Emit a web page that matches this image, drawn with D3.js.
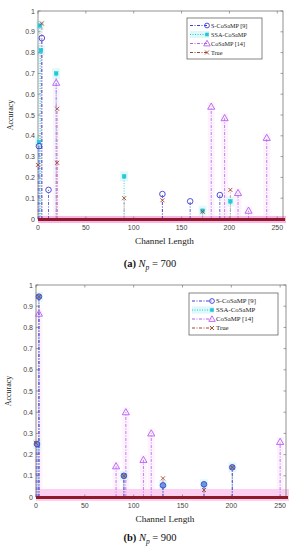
<!DOCTYPE html>
<html><head><meta charset="utf-8">
<script src="https://cdn.jsdelivr.net/npm/d3@7/dist/d3.min.js"></script>
<style>body{margin:0;background:#fff}svg{display:block}</style>
</head><body>
<script>
// ---- data ----
const seriesNames = ["S-CoSaMP [9]", "SSA-CoSaMP", "CoSaMP [14]", "True"];
const xTicks = [0, 50, 100, 150, 200, 250];
const yTicks = [0, 0.1, 0.2, 0.3, 0.4, 0.5, 0.6, 0.7, 0.8, 0.9, 1];
const xDomain = [0, 256];

// panel (a) Np = 700 : [tap index, accuracy]
const a_sCosamp = [[1,0.35],[4,0.87],[11,0.14],[130,0.12],[159,0.085],[190,0.115]];
const a_ssaCosamp = [[1,0.37],[2,0.93],[3,0.81],[19,0.70],[90,0.205],[172,0.04],[201,0.085]];
const a_cosamp = [[19,0.655],[181,0.54],[195,0.485],[209,0.125],[220,0.04],[239,0.39]];
const a_true = [[0,0.26],[4,0.94],[20,0.53],[20,0.27],[90,0.10],[130,0.09],[172,0.035],[201,0.14]];

// panel (b) Np = 900
const b_sCosamp = [[1,0.25],[3,0.945],[90,0.10],[130,0.055],[172,0.06],[201,0.14]];
const b_ssaCosamp = [[1,0.25],[3,0.945],[90,0.10],[130,0.055],[172,0.06],[201,0.14]];
const b_cosamp = [[3,0.865],[82,0.145],[92,0.40],[110,0.175],[118,0.30],[250,0.26]];
const b_true = [[0,0.255],[3,0.945],[90,0.10],[130,0.088],[172,0.033],[201,0.14]];

const colors = {s:"#3d3dd6", ssa:"#22c8d8", co:"#b45ef0", tr:"#a0442a", stemTrue:"#e8708a"};

const W = 297, H = 550;
const svg = d3.select("body").append("svg").attr("width", W).attr("height", H)
  .style("background","#fff");

function tri(size){ return d3.symbol().type(d3.symbolTriangle).size(size)(); }

function drawPanel(p) {
  const g = svg.append("g");
  const x = d3.scaleLinear().domain(xDomain).range([p.left, p.right]);
  const y = d3.scaleLinear().domain([0,1]).range([p.bottom, p.top]);

  // faint pink highlight strips behind CoSaMP stems
  g.selectAll(".strip").data(p.co).join("rect")
    .attr("x", d => x(d[0]) - 3.5).attr("width", 7)
    .attr("y", d => y(d[1]) - 5).attr("height", d => y(0) - y(d[1]) + 5)
    .attr("fill", "#f9d8f5").attr("opacity", 0.3);
  // faint cyan highlight behind SSA markers
  g.selectAll(".cbg").data(p.ssa).join("rect")
    .attr("x", d => x(d[0]) - 4).attr("y", d => y(d[1]) - 5)
    .attr("width", 8).attr("height", 10)
    .attr("fill", "#d4f6f8").attr("opacity", 0.7);

  // baseline glow
  g.append("rect").attr("x", x(0)).attr("y", y(0) - (p.glowUp))
    .attr("width", x(256) - x(0) + 3).attr("height", p.glowUp + 4)
    .attr("fill", p.glowColor);

  // frame
  g.append("rect").attr("x", p.left).attr("y", p.top)
    .attr("width", p.right - p.left).attr("height", p.bottom - p.top)
    .attr("fill", "none").attr("stroke", "#777").attr("stroke-width", 0.8);

  // ticks (inward, all four sides)
  const tk = 2.5;
  g.selectAll(".xtb").data(xTicks).join("line")
    .attr("x1", d => x(d)).attr("x2", d => x(d)).attr("y1", p.bottom).attr("y2", p.bottom - tk)
    .attr("stroke", "#777").attr("stroke-width", 0.7);
  g.selectAll(".xtt").data(xTicks).join("line")
    .attr("x1", d => x(d)).attr("x2", d => x(d)).attr("y1", p.top).attr("y2", p.top + tk)
    .attr("stroke", "#777").attr("stroke-width", 0.7);
  g.selectAll(".ytl").data(yTicks).join("line")
    .attr("x1", p.left).attr("x2", p.left + tk).attr("y1", d => y(d)).attr("y2", d => y(d))
    .attr("stroke", "#777").attr("stroke-width", 0.7);
  g.selectAll(".ytr").data(yTicks).join("line")
    .attr("x1", p.right).attr("x2", p.right - tk).attr("y1", d => y(d)).attr("y2", d => y(d))
    .attr("stroke", "#777").attr("stroke-width", 0.7);

  // tick labels
  g.selectAll(".xl").data(xTicks).join("text")
    .attr("x", d => x(d)).attr("y", p.bottom + 11).attr("text-anchor", "middle")
    .attr("font-family", "Liberation Sans, Arial, sans-serif").attr("font-size", 7)
    .attr("fill", "#444").text(d => d);
  g.selectAll(".yl").data(yTicks).join("text")
    .attr("x", p.left - 3).attr("y", d => y(d) + 2.5).attr("text-anchor", "end")
    .attr("font-family", "Liberation Sans, Arial, sans-serif").attr("font-size", 7)
    .attr("fill", "#444").text(d => d3.format("~g")(d));

  // stems
  function stems(data, color, dash, w) {
    g.append("g").selectAll("line").data(data).join("line")
      .attr("x1", d => x(d[0])).attr("x2", d => x(d[0]))
      .attr("y1", y(0)).attr("y2", d => y(d[1]))
      .attr("stroke", color).attr("stroke-width", w).attr("stroke-dasharray", dash);
  }
  stems(p.tr, colors.stemTrue, "3,1.5,1,1.5", 0.8);
  stems(p.co, colors.co, "3,1.5,1,1.5", 0.8);
  stems(p.ssa, colors.ssa, "1,1.5", 0.8);
  stems(p.s, colors.s, "3,1.5,1,1.5", 0.8);

  // baseline (zero-valued taps overlap as thick dark line)
  g.append("line").attr("x1", x(0)).attr("x2", x(256) + 2)
    .attr("y1", y(0) + 0.5).attr("y2", y(0) + 0.5)
    .attr("stroke", "#8e1b2a").attr("stroke-width", 3.2);

  // markers
  g.append("g").selectAll("path").data(p.co).join("path")
    .attr("d", tri(22)).attr("transform", d => `translate(${x(d[0])},${y(d[1]) + 0.5})`)
    .attr("fill", "none").attr("stroke", colors.co).attr("stroke-width", 0.9);
  g.append("g").selectAll("rect").data(p.ssa).join("rect")
    .attr("x", d => x(d[0]) - 1.8).attr("y", d => y(d[1]) - 1.8)
    .attr("width", 3.6).attr("height", 3.6)
    .attr("fill", colors.ssa).attr("stroke", colors.ssa).attr("stroke-width", 0.5);
  g.append("g").selectAll("circle").data(p.s).join("circle")
    .attr("cx", d => x(d[0])).attr("cy", d => y(d[1])).attr("r", 2.8)
    .attr("fill", p.sFill).attr("fill-opacity", p.sFill === "none" ? 1 : 0.6)
    .attr("stroke", colors.s).attr("stroke-width", 0.9);
  g.append("g").selectAll("path").data(p.tr).join("path")
    .attr("d", "M-2,-2L2,2M-2,2L2,-2")
    .attr("transform", d => `translate(${x(d[0])},${y(d[1])})`)
    .attr("stroke", colors.tr).attr("stroke-width", 0.9);

  // legend
  const L = p.legend;
  const lg = g.append("g");
  lg.append("rect").attr("x", L.x).attr("y", L.y).attr("width", L.w).attr("height", L.h)
    .attr("fill", "#fff").attr("stroke", "#666").attr("stroke-width", 0.8);
  const items = [
    {c: colors.s, dash: "3,1.5,1,1.5", m: "circle"},
    {c: colors.ssa, dash: "1,1.5", m: "square"},
    {c: colors.co, dash: "3,1.5,1,1.5", m: "tri"},
    {c: colors.tr, dash: "3,1.5,1,1.5", m: "x"}
  ];
  items.forEach((it, i) => {
    const yy = L.y + L.first + i * L.step;
    if (it.m === "square") lg.append("rect").attr("x", L.x + 3).attr("y", yy - 3.5)
      .attr("width", L.lineLen + 2).attr("height", 7).attr("fill", "#def7f9");
    lg.append("line").attr("x1", L.x + 3).attr("x2", L.x + 3 + L.lineLen)
      .attr("y1", yy).attr("y2", yy).attr("stroke", it.c).attr("stroke-width", 1)
      .attr("stroke-dasharray", it.dash);
    const mx = L.x + 3 + L.lineLen;
    if (it.m === "circle") lg.append("circle").attr("cx", mx).attr("cy", yy).attr("r", 2.4)
      .attr("fill", "none").attr("stroke", it.c).attr("stroke-width", 0.9);
    if (it.m === "square") lg.append("rect").attr("x", mx - 1.8).attr("y", yy - 1.8)
      .attr("width", 3.6).attr("height", 3.6).attr("fill", it.c);
    if (it.m === "tri") lg.append("path").attr("d", tri(18))
      .attr("transform", `translate(${mx},${yy + 0.5})`)
      .attr("fill", "none").attr("stroke", it.c).attr("stroke-width", 0.9);
    if (it.m === "x") lg.append("path").attr("d", "M-2,-2L2,2M-2,2L2,-2")
      .attr("transform", `translate(${mx},${yy})`).attr("stroke", it.c).attr("stroke-width", 0.9);
    lg.append("text").attr("x", mx + 4).attr("y", yy + 2.3)
      .attr("font-family", "Liberation Serif, Times New Roman, serif").attr("font-size", L.fs)
      .attr("fill", "#222").text(seriesNames[i]);
  });

  // axis labels
  g.append("text").attr("transform", `translate(${p.left - 25},${(p.top + p.bottom) / 2}) rotate(-90)`)
    .attr("text-anchor", "middle").attr("font-family", "Liberation Serif, Times New Roman, serif")
    .attr("font-size", 8).attr("fill", "#222").text("Accuracy");
  g.append("text").attr("x", (p.left + p.right) / 2 + 4).attr("y", p.bottom + 25)
    .attr("text-anchor", "middle").attr("font-family", "Liberation Serif, Times New Roman, serif")
    .attr("font-size", 9.2).attr("fill", "#222").text("Channel Length");

  // caption
  const cap = g.append("text").attr("x", p.capX).attr("y", p.capY).attr("text-anchor", "middle")
    .attr("font-family", "Liberation Serif, Times New Roman, serif").attr("font-size", 10.5).attr("fill", "#111");
  cap.append("tspan").attr("font-weight", "bold").text(p.capLabel + " ");
  cap.append("tspan").attr("font-style", "italic").text("N");
  cap.append("tspan").attr("font-style", "italic").attr("font-size", 7.5).attr("dy", 2.5).text("p");
  cap.append("tspan").attr("dy", -2.5).text(" = " + p.capVal);
}

drawPanel({
  left: 38, right: 283, top: 11, bottom: 219, glowUp: 3, glowColor: "#f7b4e4",
  s: a_sCosamp, ssa: a_ssaCosamp, co: a_cosamp, tr: a_true, sFill: "none",
  legend: {x: 187, y: 18, w: 75, h: 41, first: 7.5, step: 9, lineLen: 17, fs: 6.2},
  capX: 150, capY: 267, capLabel: "(a)", capVal: "700"
});
drawPanel({
  left: 36, right: 286, top: 285, bottom: 497, glowUp: 8, glowColor: "#fbd0f1",
  s: b_sCosamp, ssa: b_ssaCosamp, co: b_cosamp, tr: b_true, sFill: "#8080d8",
  legend: {x: 189, y: 293, w: 89, h: 42, first: 8, step: 9, lineLen: 20, fs: 6.8},
  capX: 150, capY: 541, capLabel: "(b)", capVal: "900"
});
</script>
</body></html>
